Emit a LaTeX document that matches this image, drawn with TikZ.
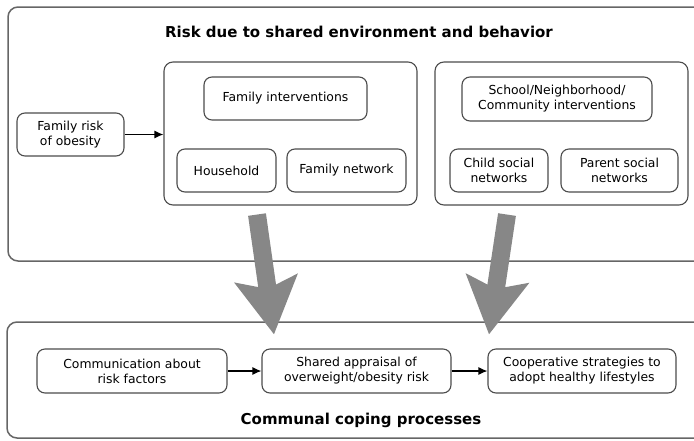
\documentclass[tikz,border=0pt]{standalone}
\usepackage{fontspec}
\setmainfont{DejaVu Sans}
\usepackage{tikz}
\usetikzlibrary{arrows.meta,positioning}

\begin{document}
\begin{tikzpicture}[
  x=1pt, y=-1pt,
  box/.style={rectangle, draw=black!70, line width=1.1pt, rounded corners=8pt, inner sep=0pt, align=center, minimum height=43pt, font=\fontsize{12.4}{15}\selectfont},
  group/.style={rectangle, draw=black!70, line width=1.1pt, rounded corners=9pt, minimum width=253pt, minimum height=143pt},
  frame/.style={rectangle, draw=black!60, line width=1.5pt, rounded corners=10pt},
  heading/.style={font=\fontsize{15}{18}\selectfont\bfseries},
  arrow/.style={-{Latex[length=9pt,width=8pt]}, line width=1.2pt},
  bigarrow/.style={line width=18pt, draw=black!47, -{Stealth[length=56pt,width=62pt,inset=10pt]}}
]
\useasboundingbox (0,0) rectangle (694,440);
\node[frame, minimum width=702pt, minimum height=254pt] (envframe) at (359,134) {};
\node[frame, minimum width=703pt, minimum height=116pt] (copeframe) at (358.5,380) {};
\node[heading] (envtitle) at (359,32) {Risk due to shared environment and behavior};
\node[heading] (copetitle) at (361,420) {Communal coping processes};
\node[box, minimum width=107pt] (famrisk) at (70.5,134.5) {Family risk\\of obesity};
\node[group] (famgrp) at (290.5,133.5) {};
\node[box, minimum width=163pt] (famint) at (285.5,98.5) {Family interventions};
\node[box, minimum width=99pt] (household) at (226.5,170.5) {Household};
\node[box, minimum width=119pt] (famnet) at (346.5,170.5) {Family network};
\node[group] (comgrp) at (561.5,133.5) {};
\node[box, minimum width=190pt, minimum height=44pt] (comint) at (557,99) {School/Neighborhood/\\Community interventions};
\node[box, minimum width=98pt] (childnet) at (499,170.5) {Child social\\networks};
\node[box, minimum width=117pt] (parentnet) at (619.5,170.5) {Parent social\\networks};
\node[box, minimum width=190pt, minimum height=44pt] (comm) at (132,371) {Communication about\\risk factors};
\node[box, minimum width=189pt, minimum height=44pt] (shared) at (356.5,371) {Shared appraisal of\\overweight/obesity risk};
\node[box, minimum width=188pt, minimum height=44pt] (coop) at (582,371) {Cooperative strategies to\\adopt healthy lifestyles};
\draw[arrow] (famrisk.east) -- (famrisk.east -| famgrp.west);
\draw[arrow] (comm) -- (shared);
\draw[arrow] (shared) -- (coop);
\draw[bigarrow] ([xshift=-33.5pt,yshift=-9pt]famgrp.south) -- ([xshift=-82.5pt,yshift=14pt]shared.north);
\draw[bigarrow] ([xshift=-54.5pt,yshift=-9pt]comgrp.south) -- ([xshift=-93pt,yshift=14pt]coop.north);
\end{tikzpicture}
\end{document}
